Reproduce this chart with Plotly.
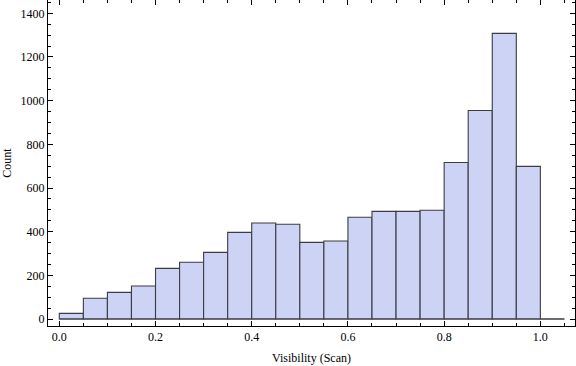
import plotly.graph_objects as go

bin_width = 0.05
bin_starts = [0.00, 0.05, 0.10, 0.15, 0.20, 0.25, 0.30, 0.35, 0.40, 0.45,
              0.50, 0.55, 0.60, 0.65, 0.70, 0.75, 0.80, 0.85, 0.90, 0.95, 1.00]
counts = [26, 95, 122, 151, 232, 260, 305, 397, 440, 434,
          351, 357, 466, 493, 493, 498, 717, 955, 1308, 699, 0]

x_title = "Visibility (Scan)"
y_title = "Count"

fill = "#CCD3F4"
edge = "#3C3C44"
font = dict(family="Liberation Serif", size=12, color="#000000")

fig = go.Figure()
fig.add_trace(go.Bar(
    x=bin_starts, y=counts, width=bin_width, offset=0,
    marker=dict(color=fill, line=dict(color=edge, width=1.1)),
    showlegend=False, hoverinfo="skip",
))
# bottom outline of the histogram (covers empty bins too)
fig.add_trace(go.Scatter(
    x=[bin_starts[0], bin_starts[-1] + bin_width], y=[0, 0],
    mode="lines", line=dict(color=edge, width=1.1),
    showlegend=False, hoverinfo="skip",
))

axis_common = dict(
    showline=True, linecolor="#000000", linewidth=1, mirror="allticks",
    ticks="inside", tickcolor="#000000", tickwidth=1, ticklen=5,
    showgrid=False, zeroline=False, tickfont=font, automargin=False,
)

fig.update_xaxes(
    range=[-0.0235, 1.072], tick0=0, dtick=0.2, tickformat=".1f",
    minor=dict(ticks="inside", dtick=0.05, ticklen=3, tickcolor="#000000", tickwidth=1, showgrid=False),
    title=dict(text=x_title, font=font, standoff=10),
    **axis_common,
)
fig.update_yaxes(
    range=[-32, 1461], tick0=0, dtick=200,
    minor=dict(ticks="inside", dtick=50, ticklen=3, tickcolor="#000000", tickwidth=1, showgrid=False),
    title=dict(text=y_title, font=font, standoff=6),
    **axis_common,
)

fig.update_layout(
    width=576, height=366,
    margin=dict(l=48, r=1, t=0, b=40),
    paper_bgcolor="#FFFFFF", plot_bgcolor="#FFFFFF",
    bargap=0, font=font,
)

fig.write_html(
    "out.html",
    config={"displayModeBar": False, "staticPlot": True},
    post_script="document.body.style.margin='0';document.body.style.overflow='hidden';",
)
